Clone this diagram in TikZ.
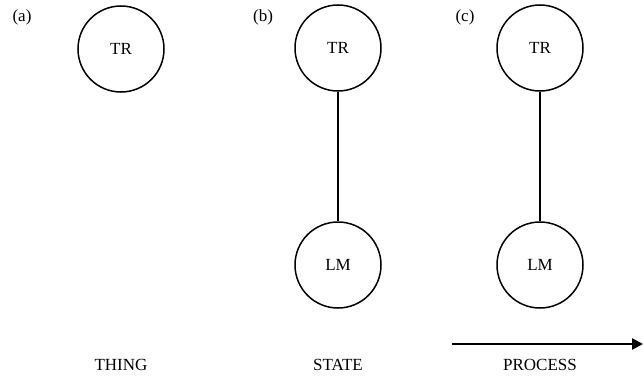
\documentclass[tikz,border=0pt]{standalone}
\usepackage{fontspec}
\setmainfont{Liberation Serif}
\usetikzlibrary{arrows.meta}
\begin{document}
\begin{tikzpicture}[x=1pt,y=1pt,
  ent/.style={draw,circle,line width=1.5pt,minimum size=86pt,inner sep=0pt,font=\fontsize{17}{19}\selectfont},
  lbl/.style={font=\fontsize{17}{19}\selectfont,inner sep=0pt},
  link/.style={line width=1.2pt}]
\useasboundingbox (0,0) rectangle (643,384);
\node[ent] (trA) at (121,335) {TR};
\node[ent] (trB) at (338,336) {TR};
\node[ent] (lmB) at (338,119) {LM};
\node[ent] (trC) at (540,336) {TR};
\node[ent] (lmC) at (540,119) {LM};
\draw[link] (trB) -- (lmB);
\draw[link] (trC) -- (lmC);
\node[lbl] (la) at (22,367) {(a)};
\node[lbl] (lb) at (263,367) {(b)};
\node[lbl] (lc) at (465,367) {(c)};
\node[lbl] (thing) at (121,19) {THING};
\node[lbl] (state) at (338,19) {STATE};
\node[lbl] (proc) at (540,19) {PROCESS};
\coordinate (arS) at (452,40);
\coordinate (arE) at (643,40);
\draw[line width=2.4pt,-{Triangle[length=11pt,width=11pt]}] (arS) -- (arE);
\end{tikzpicture}
\end{document}
